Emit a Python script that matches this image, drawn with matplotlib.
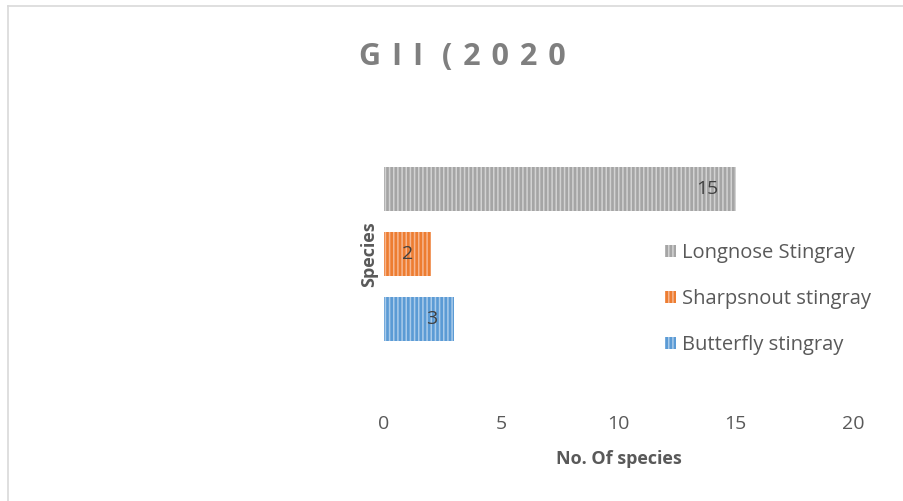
import matplotlib.pyplot as plt
from matplotlib.patches import Patch
from matplotlib.lines import Line2D

# Data
species = ['Butterfly stingray', 'Sharpsnout stingray', 'Longnose Stingray']
counts = [3, 2, 15]
colors = ['#5B9BD5', '#ED7D31', '#A5A5A5']
stripe_colors = ['#A9CBEA', '#F6B690', '#D2D2D2']
x_ticks = [0, 5, 10, 15, 20]

plt.rcParams['font.family'] = ['Open Sans', 'DejaVu Sans']
plt.rcParams['hatch.linewidth'] = 1.1
text_grey = '#595959'
fs = 14

fig = plt.figure(figsize=(9.04, 5.01), dpi=100)
ax = fig.add_axes([0.4248, 0.2984, 0.5188, 0.3892])

bars = ax.barh(range(len(species)), counts, height=0.68, color=colors,
               edgecolor=stripe_colors, linewidth=0, hatch='||||')

# data labels, inside end
for i, v in enumerate(counts):
    ax.annotate(str(v), xy=(v, i), xytext=(-12.5, 0), textcoords='offset points',
                ha='right', va='center', fontsize=fs, color='#404040')

ax.set_xlim(0, 20)
ax.set_ylim(-0.5, len(species) - 0.5)
ax.set_xticks(x_ticks)
ax.set_yticks([])
ax.tick_params(axis='x', length=0, pad=46, labelsize=fs, labelcolor=text_grey)
for s in ax.spines.values():
    s.set_visible(False)

ax.set_xlabel('No. Of species', fontsize=13, fontweight='bold', color=text_grey, labelpad=12)
ax.set_ylabel('Species', fontsize=13, fontweight='bold', color=text_grey, labelpad=4)

# title (letter-spaced like the original)
title = '\u200a '.join(['G', 'I', 'I ', '(', '2', '0', '2', '0'])
fig.text(0.511, 0.886, title, ha='center', va='center', fontsize=22,
         fontweight='bold', color='#7F7F7F')

# legend (top to bottom: Longnose, Sharpsnout, Butterfly)
handles = [Patch(facecolor=colors[i], edgecolor=stripe_colors[i], linewidth=0,
                 hatch='||||', label=species[i]) for i in [2, 1, 0]]
fig.legend(handles=handles, loc='center left', bbox_to_anchor=(0.725, 0.403),
           frameon=False, fontsize=14.5, labelcolor=text_grey, handlelength=0.5,
           handleheight=0.5, handletextpad=0.3, labelspacing=1.3, borderpad=0)

# chart border
fig.add_artist(Line2D([0.0094, 0.0094], [0, 0.988], color='#D9D9D9', linewidth=1.2))
fig.add_artist(Line2D([0.0094, 1], [0.988, 0.988], color='#D9D9D9', linewidth=1.2))

fig.savefig('out.png', dpi=100)
